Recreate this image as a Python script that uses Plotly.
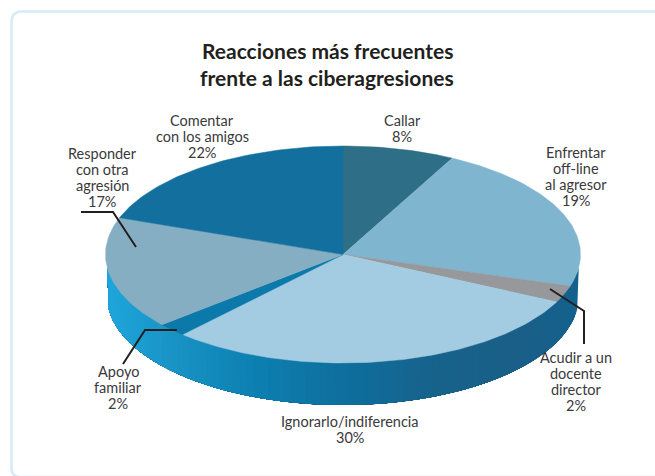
import math
import plotly.graph_objects as go

# Data
categories = ["Callar", "Enfrentar off-line al agresor", "Acudir a un docente director",
              "Ignorarlo/indiferencia", "Apoyo familiar", "Responder con otra agresión",
              "Comentar con los amigos"]
labelled_pct = [8, 19, 2, 30, 2, 17, 22]
# Shares of the ellipse as they are actually drawn in the reference (perspective distorts them)
drawn_pct = [7.6, 22.1, 2.5, 29.6, 2.0, 16.7, 19.5]
top_colors = ["#2e6e87", "#80b5cf", "#96989c", "#a3cce2", "#0b7aab", "#86aec3", "#13709e"]

title_lines = ["Reacciones más frecuentes", "frente a las ciberagresiones"]

CX, CY, A, B = 343, 254.5, 237.5, 108.5
BOT_CY, BOT_A, BOT_B = 296, 236, 109
WALL_START, WALL_END = 97, 263


def top_pt(t):
    r = math.radians(t)
    return CX + A * math.sin(r), CY - B * math.cos(r)


def bot_pt(t):
    r = math.radians(t)
    return CX + BOT_A * math.sin(r), BOT_CY - BOT_B * math.cos(r)


def hex2rgb(h):
    return [int(h[i:i + 2], 16) for i in (1, 3, 5)]


wall_stops = [(105, "#1ea6dc"), (170, "#1a94c6"), (260, "#0c7fb0"), (345, "#0e6f9e"),
              (440, "#17628b"), (520, "#1a5f88"), (580, "#14618e")]


def wall_color(x):
    for (x0, c0), (x1, c1) in zip(wall_stops, wall_stops[1:]):
        if x <= x1:
            f = max(0, (x - x0) / (x1 - x0))
            a, b = hex2rgb(c0), hex2rgb(c1)
            return "rgb(%d,%d,%d)" % tuple(round(a[i] + (b[i] - a[i]) * f) for i in range(3))
    return wall_stops[-1][1]


fig = go.Figure()

# Side wall of the disc: overlapping bands painted from one end, so no seams show
N = 90
for i in range(N):
    t0 = WALL_START + (WALL_END - WALL_START) * i / N
    ts = [t0 + (WALL_END - t0) * k / 60 for k in range(61)]
    up = [top_pt(t) for t in ts]
    dn = [bot_pt(t) for t in reversed(ts)]
    p = up + dn + [up[0]]
    c = wall_color(p[0][0] - 1)
    fig.add_trace(go.Scatter(x=[q[0] for q in p], y=[q[1] for q in p], mode="lines",
                             fill="toself", fillcolor=c, line=dict(width=0),
                             hoverinfo="skip", showlegend=False))

# Top face slices
start = 0.0
for name, pct, lab, col in zip(categories, drawn_pct, labelled_pct, top_colors):
    end = start + pct / sum(drawn_pct) * 360
    n = max(4, int(end - start))
    pts = [top_pt(start + (end - start) * k / n) for k in range(n + 1)]
    xs = [CX] + [q[0] for q in pts] + [CX]
    ys = [CY] + [q[1] for q in pts] + [CY]
    fig.add_trace(go.Scatter(x=xs, y=ys, mode="lines", fill="toself", fillcolor=col,
                             line=dict(color=col, width=0.5), name=name,
                             text=f"{name}: {lab}%", hoverinfo="text", showlegend=False))
    start = end

# Leader lines
leaders = [
    ([81, 113, 136], [212, 212, 247]),
    ([177, 145, 123], [330, 330, 364]),
    ([550, 584, 584], [289, 311, 344]),
]
for lx, ly in leaders:
    fig.add_trace(go.Scatter(x=lx, y=ly, mode="lines", line=dict(color="#231f20", width=2),
                             hoverinfo="skip", showlegend=False))

shapes = [dict(type="path", xref="x", yref="y",
               path="M 670 11.5 L 22 11.5 Q 11.5 11.5 11.5 22 L 11.5 468 Q 11.5 477 20 477 L 670 477",
               line=dict(color="#d6ebf5", width=2.5), layer="below")]

FONT = "Lato"
annotations = []


def put(text, x, y, size=14.5, color="#3a393b", weight=None):
    annotations.append(dict(text=f"<b>{text}</b>" if weight else text, x=x, y=y, xref="x", yref="y",
                            showarrow=False, xanchor="center", yanchor="middle",
                            font=dict(family=FONT, size=size, color=color)))


put(title_lines[0], 327, 50, size=21, color="#231f20", weight=True)
put(title_lines[1], 327, 77, size=21, color="#231f20", weight=True)

label_blocks = [
    (202, [("Comentar", 120), ("con los amigos", 136), ("22%", 152)]),
    (402, [("Callar", 120), ("8%", 136)]),
    (576, [("Enfrentar", 152.5), ("off-line", 168.5), ("al agresor", 184.5), ("19%", 200.5)]),
    (102, [("Responder", 153.5), ("con otra", 169.5), ("agresión", 185.5), ("17%", 201.5)]),
    (118, [("Apoyo", 371), ("familiar", 387), ("2%", 403)]),
    (350, [("Ignorarlo/indiferencia", 421), ("30%", 437)]),
    (576, [("Acudir a un", 357.5), ("docente", 373.5), ("director", 389.5), ("2%", 405.5)]),
]
for x, lines in label_blocks:
    for txt, y in lines:
        put(txt, x, y)

fig.update_layout(
    width=655, height=476, margin=dict(l=0, r=0, t=0, b=0),
    paper_bgcolor="white", plot_bgcolor="white", showlegend=False,
    xaxis=dict(range=[0, 655], visible=False, fixedrange=True),
    yaxis=dict(range=[476, 0], visible=False, fixedrange=True),
    shapes=shapes, annotations=annotations,
)
fig.write_html("out.html", config={"displayModeBar": False},
               post_script="document.body.style.margin='0';document.body.style.overflow='hidden';")
